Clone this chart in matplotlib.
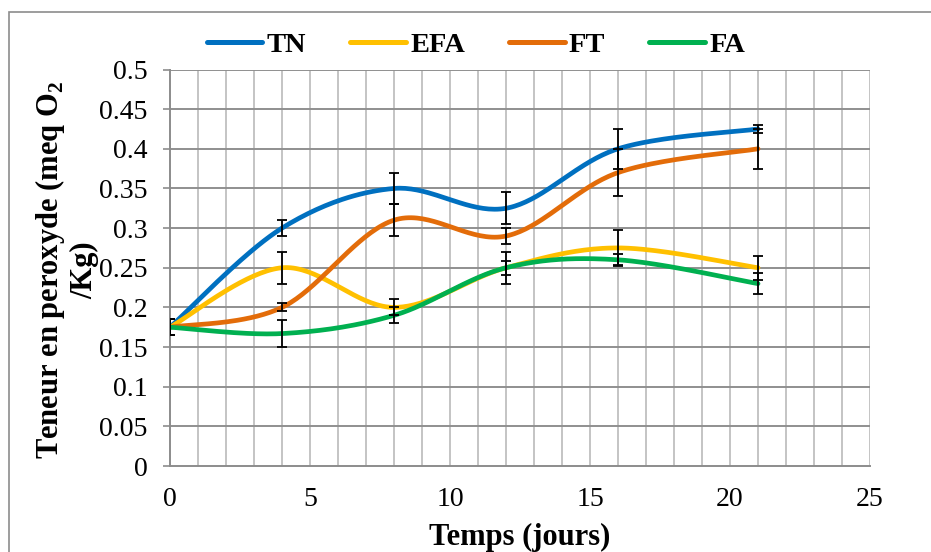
import numpy as np
import matplotlib
matplotlib.use("Agg")
import matplotlib.pyplot as plt
from matplotlib.patches import Rectangle

plt.rcParams["font.family"] = ["Liberation Serif", "DejaVu Serif"]
plt.rcParams["mathtext.fontset"] = "custom"
plt.rcParams["mathtext.rm"] = "Liberation Serif:bold"
plt.rcParams["mathtext.bf"] = "Liberation Serif:bold"

# Sampling days
days = [0, 4, 8, 12, 16, 21]

# Peroxide content (meq O2/Kg) and standard deviations per treatment
tn = [0.175, 0.30, 0.35, 0.325, 0.40, 0.425]
tn_err = [0.01, 0.01, 0.02, 0.02, 0.025, 0.005]

efa = [0.175, 0.25, 0.20, 0.25, 0.275, 0.25]
efa_err = [0.01, 0.02, 0.01, 0.02, 0.023, 0.015]

ft = [0.175, 0.20, 0.31, 0.29, 0.37, 0.40]
ft_err = [0.01, 0.005, 0.02, 0.01, 0.03, 0.025]

fa = [0.175, 0.167, 0.19, 0.25, 0.26, 0.23]
fa_err = [0.01, 0.017, 0.01, 0.009, 0.007, 0.013]

series = [
    ("TN", tn, tn_err, "#0070C0"),
    ("EFA", efa, efa_err, "#FFC000"),
    ("FT", ft, ft_err, "#E36C09"),
    ("FA", fa, fa_err, "#00B050"),
]


def smooth(x, y, n=40):
    """Spreadsheet-style smoothed line: cubic Bezier segments through every point."""
    p = np.column_stack([x, y]).astype(float)
    out = []
    for i in range(len(p) - 1):
        p0 = p[i - 1] if i > 0 else p[i]
        p1 = p[i]
        p2 = p[i + 1]
        p3 = p[i + 2] if i + 2 < len(p) else p[i + 1]
        c1 = p1 + (p2 - p0) / 6.0
        c2 = p2 - (p3 - p1) / 6.0
        t = np.linspace(0, 1, n)[:, None]
        seg = ((1 - t) ** 3) * p1 + 3 * ((1 - t) ** 2) * t * c1 + 3 * (1 - t) * t ** 2 * c2 + t ** 3 * p2
        out.append(seg if i == 0 else seg[1:])
    c = np.vstack(out)
    return c[:, 0], c[:, 1]


W, H = 931, 552
fig = plt.figure(figsize=(W / 100, H / 100), dpi=100)
fig.patches.append(Rectangle((8.5 / W, -0.5), 2, 1.5 - 12 / H, transform=fig.transFigure,
                             fill=False, edgecolor="#8c8c8c", linewidth=1.2))

ax = fig.add_axes([170 / W, 1 - 466 / H, 700 / W, (466 - 69.5) / H])
ax.set_xlim(0, 25)
ax.set_ylim(0, 0.5)

# grid: vertical every day, horizontal at each y tick
for xv in range(1, 26):
    ax.axvline(xv, color="#c4c4c4", lw=1.4, zorder=0)
for yv in np.arange(0.05, 0.501, 0.05):
    ax.axhline(yv, color="#8f8f8f", lw=1.4, zorder=0.5)

for name, vals, errs, col in series:
    sx, sy = smooth(days, vals)
    ax.plot(sx, sy, color=col, lw=3.4, solid_capstyle="round", label=name, zorder=3)

for name, vals, errs, col in series:
    ax.errorbar(days, vals, yerr=errs, fmt="none", ecolor="black", elinewidth=1.3,
                capsize=3.5, capthick=1.3, zorder=4)

for s in ["top", "right"]:
    ax.spines[s].set_visible(False)
ax.spines["left"].set_color("#8c8c8c")
ax.spines["bottom"].set_color("#8c8c8c")
ax.spines["left"].set_linewidth(1.4)
ax.spines["bottom"].set_linewidth(1.4)

ax.set_xticks([0, 5, 10, 15, 20, 25])
ax.set_yticks(np.round(np.arange(0, 0.501, 0.05), 2))
ax.set_yticklabels(["0", "0.05", "0.1", "0.15", "0.2", "0.25", "0.3", "0.35", "0.4", "0.45", "0.5"])
ax.tick_params(axis="x", length=0, pad=15, labelsize=20)
ax.tick_params(axis="y", length=5, width=1.2, color="#8c8c8c", pad=11, labelsize=20)

fig.text(520 / W, 1 - 537 / H, "Temps (jours)", fontsize=22, fontweight="bold",
         ha="center", va="center")
fig.text(66 / W, 1 - 270 / H, "Teneur en peroxyde (meq O$_2$\n/Kg)", fontsize=22,
         fontweight="bold", rotation=90, ha="center", va="center",
         multialignment="center", linespacing=1.15)

leg = ax.legend(loc="center", bbox_to_anchor=(476 / W, 1 - 45 / H), bbox_transform=fig.transFigure,
                ncol=4, frameon=False, handlelength=1.95, handletextpad=0.15, columnspacing=1.55,
                prop={"family": "Liberation Serif", "weight": "bold", "size": 20.5})
for line in leg.get_lines():
    line.set_linewidth(3.6)

fig.savefig("out.png", dpi=100)
